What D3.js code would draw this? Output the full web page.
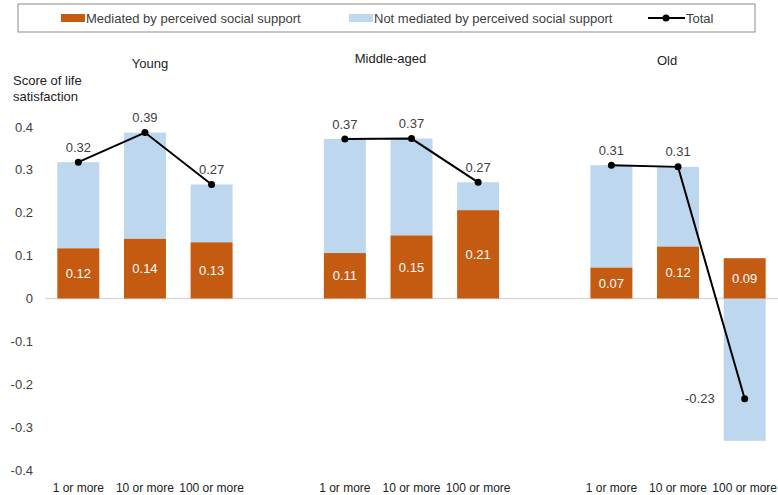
<!DOCTYPE html>
<html>
<head>
<meta charset="utf-8">
<script src="https://cdn.jsdelivr.net/npm/d3@7"></script>
<style>
  body { margin: 0; background: #fff; }
  svg { display: block; font-family: "Liberation Sans", Arial, sans-serif; }
  .tick-label, .val { fill: #404040; font-size: 13px; }
  .inner { fill: #fff; font-size: 13px; }
  .title { fill: #222; font-size: 13px; }
</style>
</head>
<body>
<svg id="chart" width="778" height="495"></svg>
<script>
// age groups and contact categories
const groups = ["Young", "Middle-aged", "Old"];
const thresholds = ["1 or more", "10 or more", "100 or more"];

// one row per group, one value per threshold
const mediated = [
    [0.117, 0.139, 0.131],
    [0.106, 0.147, 0.206],
    [0.072, 0.121, 0.094]
];
const notMediated = [
    [0.201, 0.248, 0.135],
    [0.266, 0.226, 0.065],
    [0.239, 0.186, -0.332]
];
const total = [
    [0.318, 0.387, 0.266],
    [0.372, 0.373, 0.271],
    [0.311, 0.307, -0.234]
];

const yTicks = [-0.4, -0.3, -0.2, -0.1, 0, 0.1, 0.2, 0.3, 0.4];
const yTitle = ["Score of life", "satisfaction"];
const legendLabels = ["Mediated by perceived social support", "Not mediated by perceived social support", "Total"];

const colors = { med: "#c55a11", notMed: "#bdd7ee", total: "#000" };

const svg = d3.select("#chart");

// flatten into rows
var rows = [];
groups.forEach((g, gi) => {
    thresholds.forEach((t, ti) => {
        rows.push({ g: g, t: t, m: mediated[gi][ti], n: notMediated[gi][ti], tot: total[gi][ti] });
    });
});

/** scales */
var x0 = d3.scaleBand().domain(groups).range([45, 778]).paddingInner(0.25).paddingOuter(0);
var x1 = d3.scaleBand().domain(thresholds).range([0, x0.bandwidth()]).paddingInner(0.37).paddingOuter(0.185);
var y = d3.scaleLinear().domain([-0.4, 0.4]).range([470, 127]);

var xc = d => x0(d.g) + x1(d.t) + x1.bandwidth() / 2;

// legend box
var legend = svg.append("g");
legend.append("rect")
    .attr("x", 18).attr("y", 4).attr("width", 737).attr("height", 28)
    .attr("fill", "none").attr("stroke", "#8c8c8c").attr("stroke-width", 1);

legend.append("rect").attr("x", 61).attr("y", 14).attr("width", 24).attr("height", 8).attr("fill", colors.med);
legend.append("text").attr("x", 86).attr("y", 23).attr("class", "val").text(legendLabels[0]);

legend.append("rect").attr("x", 349).attr("y", 14).attr("width", 24).attr("height", 8).attr("fill", colors.notMed);
legend.append("text").attr("x", 374).attr("y", 23).attr("class", "val").text(legendLabels[1]);

legend.append("line").attr("x1", 648).attr("x2", 685).attr("y1", 18).attr("y2", 18)
    .attr("stroke", colors.total).attr("stroke-width", 2);
legend.append("circle").attr("cx", 666).attr("cy", 18).attr("r", 3.5).attr("fill", colors.total);
legend.append("text").attr("x", 686).attr("y", 23).attr("class", "val").text(legendLabels[2]);

// y axis labels (no line)
svg.append("g").selectAll("text")
    .data(yTicks)
    .enter().append("text")
    .attr("class", "tick-label")
    .attr("x", 33)
    .attr("y", d => y(d))
    .attr("dy", "0.35em")
    .attr("text-anchor", "end")
    .text(d => d === 0 ? "0" : d.toFixed(1));

svg.append("text")
    .attr("class", "title")
    .selectAll("tspan")
    .data(yTitle)
    .enter().append("tspan")
    .attr("x", 13)
    .attr("y", (d, i) => 85 + i * 16)
    .text(d => d);

// zero line
svg.append("line")
    .attr("x1", 45).attr("x2", 778)
    .attr("y1", y(0)).attr("y2", y(0))
    .attr("stroke", "#d9d9d9").attr("stroke-width", 1.5);

// group titles, nudged to where the original places them
var titleShift = { "Young": [5, 63], "Middle-aged": [-21, 58], "Old": [-11, 60] };
svg.append("g").selectAll("text")
    .data(groups)
    .enter().append("text")
    .attr("class", "title")
    .attr("x", d => x0(d) + x0.bandwidth() / 2 + titleShift[d][0])
    .attr("y", d => titleShift[d][1])
    .attr("dy", "0.35em")
    .attr("text-anchor", "middle")
    .text(d => d);

// bars - not mediated part
svg.append("g").selectAll("rect")
    .data(rows)
    .enter().append("rect")
    .attr("x", d => x0(d.g) + x1(d.t))
    .attr("width", x1.bandwidth())
    .attr("y", d => d.n >= 0 ? y(d.m + d.n) : y(0))
    .attr("height", d => d.n >= 0 ? y(d.m) - y(d.m + d.n) : y(d.n) - y(0))
    .attr("fill", colors.notMed);

// bars - mediated part
svg.append("g").selectAll("rect")
    .data(rows)
    .enter().append("rect")
    .attr("x", d => x0(d.g) + x1(d.t))
    .attr("width", x1.bandwidth())
    .attr("y", d => y(d.m))
    .attr("height", d => y(0) - y(d.m))
    .attr("fill", colors.med);

svg.append("g").selectAll("text")
    .data(rows)
    .enter().append("text")
    .attr("class", "inner")
    .attr("x", xc)
    .attr("y", d => (y(d.m) + y(0)) / 2)
    .attr("dy", "0.35em")
    .attr("text-anchor", "middle")
    .text(d => d.m.toFixed(2));

// total line, one per group
var line = d3.line().x(xc).y(d => y(d.tot));
groups.forEach(g => {
    svg.append("path")
        .datum(rows.filter(r => r.g == g))
        .attr("d", line)
        .attr("fill", "none")
        .attr("stroke", colors.total)
        .attr("stroke-width", 2);
});

svg.append("g").selectAll("circle")
    .data(rows)
    .enter().append("circle")
    .attr("cx", xc)
    .attr("cy", d => y(d.tot))
    .attr("r", 3.5)
    .attr("fill", colors.total);

svg.append("g").selectAll("text")
    .data(rows)
    .enter().append("text")
    .attr("class", "val")
    .attr("x", d => d.tot >= 0 ? xc(d) : xc(d) - 30)
    .attr("y", d => d.tot >= 0 ? y(d.tot) - 15 : y(d.tot))
    .attr("dy", "0.35em")
    .attr("text-anchor", d => d.tot >= 0 ? "middle" : "end")
    .text(d => d.tot.toFixed(2));

// category labels along the bottom
svg.append("g").selectAll("text")
    .data(rows)
    .enter().append("text")
    .attr("class", "title")
    .attr("x", xc)
    .attr("y", 488)
    .attr("dy", "0.35em")
    .attr("text-anchor", "middle")
    .style("font-size", "12px")
    .text(d => d.t);
</script>
</body>
</html>
